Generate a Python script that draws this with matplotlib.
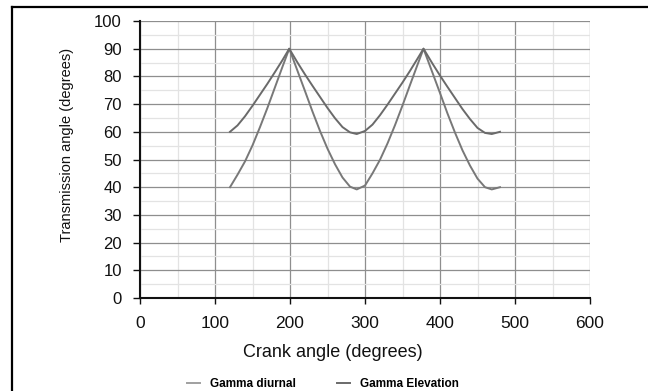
import matplotlib
matplotlib.use('Agg')
import matplotlib.pyplot as plt
from matplotlib.lines import Line2D
from matplotlib.ticker import MultipleLocator

plt.rcParams['font.family'] = ['Liberation Sans', 'DejaVu Sans']

# crank angle (degrees)
crank = [120, 130, 140, 150, 160, 170, 180, 190, 199, 210, 220, 230, 240, 250,
         260, 270, 280, 289, 300, 310, 320, 330, 340, 350, 360, 370, 378, 390,
         400, 410, 420, 430, 440, 450, 460, 469, 480]
# transmission angles
gamma_diurnal = [40, 44.5, 49.3, 55.1, 61.7, 68.7, 76.1, 83.5, 90, 82, 74.7, 67.3,
                 60.3, 53.9, 48.3, 43.5, 40.2, 39.2, 40.6, 45, 49.9, 55.8, 62.4,
                 69.5, 76.9, 84.2, 90, 81.3, 74, 66.6, 59.7, 53.3, 47.8, 43.1, 40,
                 39.2, 40]
gamma_elevation = [60, 62.3, 65.6, 69.4, 73.4, 77.4, 81.6, 85.9, 90, 85, 80.7, 76.6,
                   72.6, 68.6, 64.9, 61.7, 59.8, 59.2, 60.3, 62.6, 66, 69.8, 73.8,
                   77.8, 82, 86.4, 90, 84.6, 80.3, 76.2, 72.2, 68.2, 64.6, 61.4,
                   59.6, 59.2, 60]

W, H = 648, 391
fig = plt.figure(figsize=(W / 100, H / 100), dpi=100)
ax = fig.add_axes([140 / W, 1 - 298 / H, 450 / W, 277 / H])

# legend swatch for diurnal is lighter than its curve
l1, = ax.plot(crank, gamma_diurnal, color='#a0a0a0', lw=1.4, label='Gamma diurnal')
l2, = ax.plot(crank, gamma_elevation, color='#6a6a6a', lw=1.4, label='Gamma Elevation')

ax.set_xlim(0, 600)
ax.set_ylim(0, 100)
ax.xaxis.set_major_locator(MultipleLocator(100))
ax.xaxis.set_minor_locator(MultipleLocator(50))
ax.yaxis.set_major_locator(MultipleLocator(10))
ax.yaxis.set_minor_locator(MultipleLocator(5))
ax.grid(which='major', color='#8e8e8e', lw=0.9)
ax.grid(which='minor', color='#e3e3e3', lw=0.9)
ax.set_axisbelow(True)

for s in ['top', 'right']:
    ax.spines[s].set_visible(False)
for s in ['left', 'bottom']:
    ax.spines[s].set_linewidth(1.5)
    ax.spines[s].set_color('#111111')

ax.tick_params(which='minor', length=0)
ax.tick_params(axis='y', which='major', direction='out', length=5, width=1,
               pad=8, labelsize=12, colors='#111111')
ax.tick_params(axis='x', which='major', direction='out', length=4, width=1,
               pad=9, labelsize=12.5, colors='#111111')

ax.set_xlabel('Crank angle (degrees)', fontsize=13, color='#111111')
ax.xaxis.set_label_coords((333 - 140) / 450, (298 - 344) / 277)
ax.set_ylabel('Transmission angle (degrees)', fontsize=10.5, color='#111111')
ax.yaxis.set_label_coords((74 - 140) / 450, (298 - 145) / 277)

fig.legend(handles=[l1, l2], loc='center', ncol=2,
           bbox_to_anchor=(323 / W, 1 - 384 / H), frameon=False,
           prop={'weight': 'bold', 'size': 8.5},
           handlelength=1.1, handletextpad=0.85, columnspacing=3.5)
l1.set_color('#787878')

# outer frame (only top and left edges show)
fig.add_artist(Line2D([12 / W, 1], [1 - 7 / H, 1 - 7 / H], color='black', lw=1.6))
fig.add_artist(Line2D([12 / W, 12 / W], [0, 1 - 7 / H], color='black', lw=1.6))

fig.savefig('out.png', dpi=100)
